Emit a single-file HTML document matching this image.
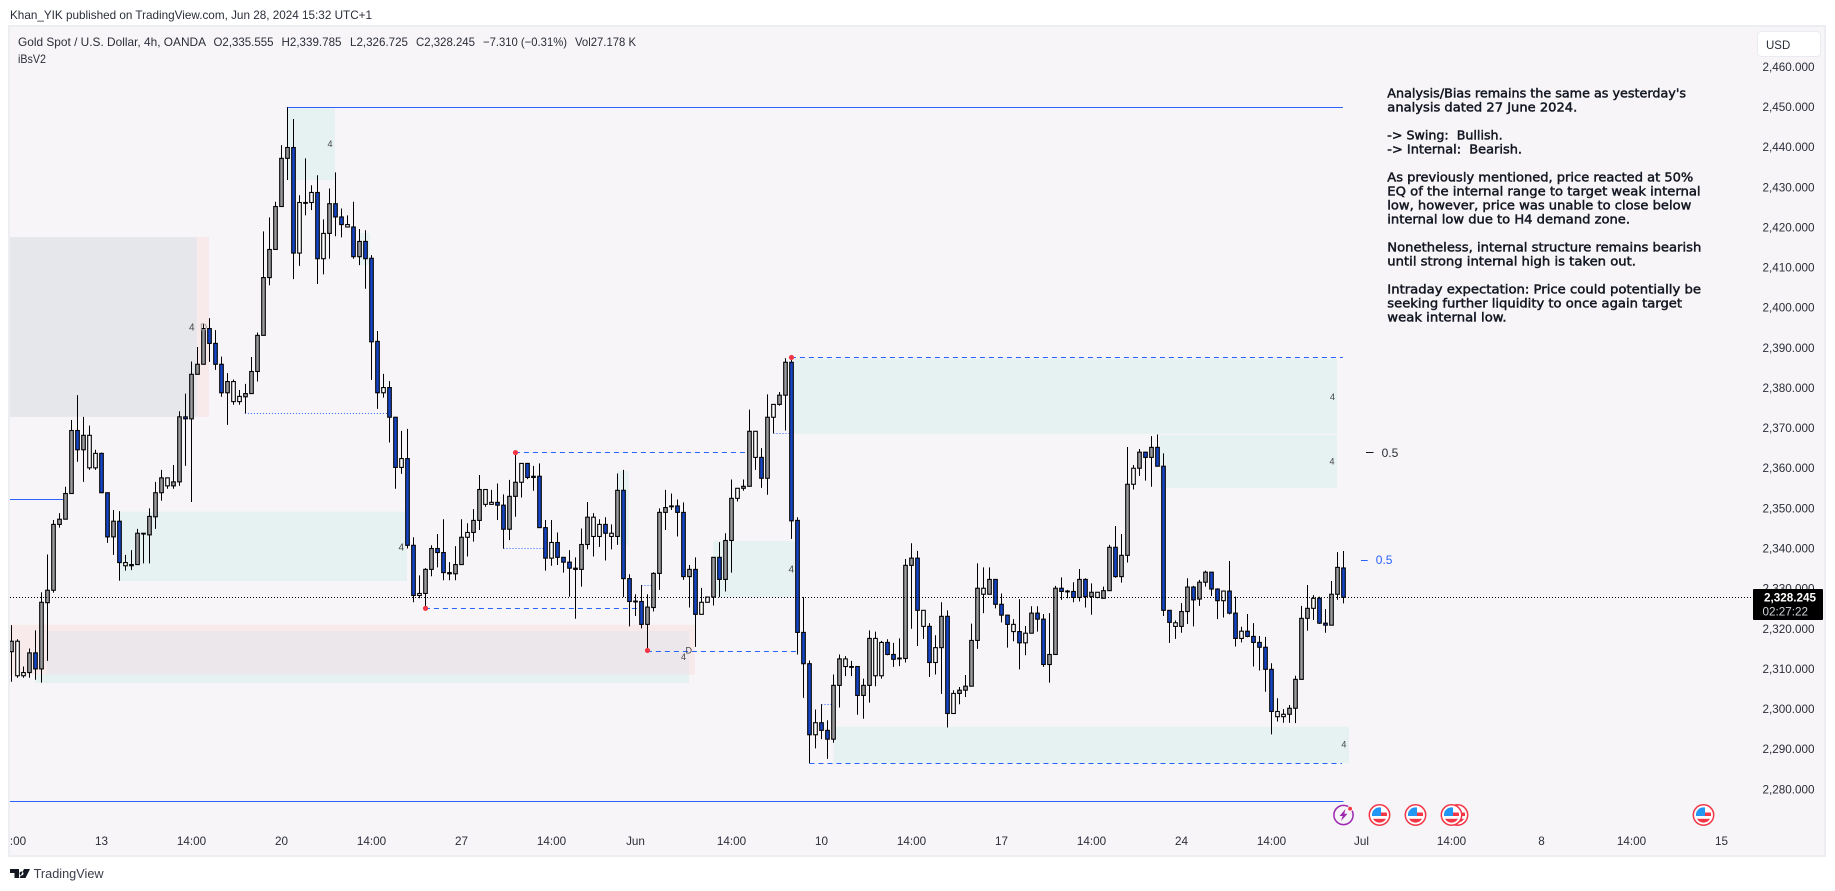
<!DOCTYPE html>
<html lang="en">
<head>
<meta charset="utf-8">
<title>Gold Spot / U.S. Dollar 4h chart</title>
<style>
html,body{margin:0;padding:0;background:#fff;width:1835px;height:891px;overflow:hidden}
svg{display:block}
text{font-family:"Liberation Sans",sans-serif;white-space:pre}
.lg{font-size:12px;fill:#2a2e39}
.note{font-family:"DejaVu Sans","Liberation Sans",sans-serif;font-size:12px;font-weight:400;fill:#131722;stroke:#131722;stroke-width:.45}
.tick{font-size:11.7px;fill:#2a2e39}
</style>
</head>
<body>
<svg id="chart" xmlns="http://www.w3.org/2000/svg" width="1835" height="891" viewBox="0 0 1835 891">
  <defs>
    <clipPath id="plot-clip"><rect x="10" y="27" width="1814" height="829"></rect></clipPath>
    <clipPath id="flag-clip"><circle cx="0" cy="0" r="7.6"></circle></clipPath>
  </defs>
  <text x="10" y="19" class="lg" textLength="362" lengthAdjust="spacingAndGlyphs">Khan_YIK published on TradingView.com, Jun 28, 2024 15:32 UTC+1</text>
  <rect x="9" y="26" width="1816" height="830" fill="#f7f5f7" stroke="#eceef2" stroke-width="2"></rect>

  <g id="zones" clip-path="url(#plot-clip)"></g>
  <g id="levels" clip-path="url(#plot-clip)"></g>
  <g id="candles" clip-path="url(#plot-clip)"></g>
  <g id="pivots" clip-path="url(#plot-clip)"></g>
  <g id="lastline"></g>
  <g id="yticks"></g>
  <g id="xticks" clip-path="url(#plot-clip)"></g>
  <g id="events"></g>

  <g>
    <text x="18" y="46" class="lg" textLength="188" lengthAdjust="spacingAndGlyphs">Gold Spot / U.S. Dollar, 4h, OANDA</text>
    <text x="213.5" y="46" class="lg" textLength="60" lengthAdjust="spacingAndGlyphs">O2,335.555</text>
    <text x="281.5" y="46" class="lg" textLength="60" lengthAdjust="spacingAndGlyphs">H2,339.785</text>
    <text x="350" y="46" class="lg" textLength="58" lengthAdjust="spacingAndGlyphs">L2,326.725</text>
    <text x="416" y="46" class="lg" textLength="59" lengthAdjust="spacingAndGlyphs">C2,328.245</text>
    <text x="483" y="46" class="lg" textLength="84" lengthAdjust="spacingAndGlyphs">−7.310 (−0.31%)</text>
    <text x="575" y="46" class="lg" textLength="61" lengthAdjust="spacingAndGlyphs">Vol27.178 K</text>
    <text x="18" y="63" class="lg" textLength="28" lengthAdjust="spacingAndGlyphs">iBsV2</text>
  </g>

  <g>
    <text class="note" x="1387.3" y="97.5" textLength="298.7" lengthAdjust="spacingAndGlyphs">Analysis/Bias remains the same as yesterday's</text>
    <text class="note" x="1387.3" y="111.5" textLength="190" lengthAdjust="spacingAndGlyphs">analysis dated 27 June 2024.</text>
    <text class="note" x="1387.3" y="139.5" textLength="115.3" lengthAdjust="spacingAndGlyphs">-&gt; Swing:  Bullish.</text>
    <text class="note" x="1387.3" y="153.5" textLength="134.7" lengthAdjust="spacingAndGlyphs">-&gt; Internal:  Bearish.</text>
    <text class="note" x="1387.3" y="181.5" textLength="306" lengthAdjust="spacingAndGlyphs">As previously mentioned, price reacted at 50%</text>
    <text class="note" x="1387.3" y="195.5" textLength="313.3" lengthAdjust="spacingAndGlyphs">EQ of the internal range to target weak internal</text>
    <text class="note" x="1387.3" y="209.5" textLength="304" lengthAdjust="spacingAndGlyphs">low, however, price was unable to close below</text>
    <text class="note" x="1387.3" y="223.5" textLength="242.7" lengthAdjust="spacingAndGlyphs">internal low due to H4 demand zone.</text>
    <text class="note" x="1387.3" y="251.5" textLength="314" lengthAdjust="spacingAndGlyphs">Nonetheless, internal structure remains bearish</text>
    <text class="note" x="1387.3" y="265.5" textLength="248.7" lengthAdjust="spacingAndGlyphs">until strong internal high is taken out.</text>
    <text class="note" x="1387.3" y="293.5" textLength="313.7" lengthAdjust="spacingAndGlyphs">Intraday expectation: Price could potentially be</text>
    <text class="note" x="1387.3" y="307.5" textLength="294.7" lengthAdjust="spacingAndGlyphs">seeking further liquidity to once again target</text>
    <text class="note" x="1387.3" y="321.5" textLength="119.3" lengthAdjust="spacingAndGlyphs">weak internal low.</text>
  </g>

  <g>
    <line x1="1366" x2="1373.5" y1="452.5" y2="452.5" stroke="#131722" stroke-width="1"></line>
    <text x="1381.6" y="457" font-size="12" fill="#2a2e39">0.5</text>
    <line x1="1361" x2="1367.7" y1="560.5" y2="560.5" stroke="#2962ff" stroke-width="1"></line>
    <text x="1375.8" y="564" font-size="12" fill="#2962ff">0.5</text>
  </g>

  <g font-size="9" fill="#444">
    <text x="327.5" y="147">4</text>
    <text x="189" y="330.5" font-size="10">4</text>
    <text x="200" y="330.5" font-size="10" fill="#999">D</text>
    <text x="398.5" y="550.5" font-size="10">4</text>
    <text x="788.5" y="572.5" font-size="10">4</text>
    <text x="681" y="660">4</text>
    <text x="685.5" y="653.5">D</text>
    <text x="1330" y="400">4</text>
    <text x="1329.5" y="464.5">4</text>
    <text x="1341.4" y="747.5">4</text>
  </g>

  <g>
    <rect x="1753" y="589" width="70" height="31" rx="1" fill="#000"></rect>
    <text x="1816" y="601.5" text-anchor="end" font-size="11.7" font-weight="700" fill="#fff">2,328.245</text>
    <text x="1808" y="615.5" text-anchor="end" font-size="11.7" fill="#d1d4dc">02:27:22</text>
  </g>

  <g>
    <rect x="1757.5" y="31.5" width="63" height="25" rx="4" fill="#fff" stroke="#eaebf0"></rect>
    <text x="1766" y="49" font-size="11.5" fill="#2a2e39">USD</text>
  </g>

  <g>
    <path d="M10 869h9v9h-4.5v-5H10zM21.5 871.5a2 2 0 1 0 .01 0zM24 869h6l-4.5 9h-6z" fill="#131722"></path>
    <text x="33.6" y="878" font-size="12.5" fill="#3a3e49" textLength="70" lengthAdjust="spacingAndGlyphs">TradingView</text>
  </g>
</svg>

<script>
// ---- price data (one entry per 4h bar) ----
const highs = [
2321.3,2317.8,2311,2315.5,2320,2329.5,2338.9,2347.5,2349.2,2355.8,
2372.4,2378.6,2373.2,2371,2365,2364.3,2354.3,2350,2349.7,2338.8,
2340,2345.3,2344.2,2350.4,2357,2360,2358,2361.2,2374.6,2379,
2387,2390.6,2396.5,2397.8,2394.8,2388.2,2384.1,2382.5,2379.9,2381.4,
2388.1,2394.2,2419.4,2422.9,2426.8,2440.9,2450.3,2447.4,2428.4,2437.6,
2430.9,2433.4,2422.4,2430.1,2434.1,2425.1,2423.4,2426.8,2420,2419.7,
2413.5,2394.6,2383.9,2382.1,2373.1,2369.7,2370.2,2343.2,2333.7,2335.5,
2341.2,2344,2347.7,2337,2341,2347.7,2346.7,2350.2,2358.7,2355.1,
2355,2356.6,2353.9,2357.5,2364.3,2361.6,2361.6,2361,2361.6,2347.5,
2347.5,2344.4,2338.2,2340,2338.2,2345.4,2352,2349.2,2347.7,2348.2,
2346.4,2359.1,2360,2334,2329,2331.3,2329,2334.5,2350.4,2355,
2354.1,2352.6,2351.9,2336.3,2338.2,2330.6,2328.3,2338.2,2342,2344.2,
2357.6,2355.4,2357.6,2375,2369.6,2365.4,2378.8,2376.3,2379.4,2387.8,
2388.6,2348.2,2328.3,2312.5,2300.3,2301.6,2297.6,2309,2314,2313.6,
2312.4,2311,2308,2320,2319.7,2317.4,2317.8,2316.9,2318,2337.8,
2341.7,2339.8,2325,2321.8,2318.8,2327,2325,2305.1,2305.9,2308.9,
2321.7,2336.7,2335.7,2335.7,2332.7,2329.2,2323.8,2322.8,2327.8,2321.1,
2326,2326,2324.1,2324.3,2331.1,2333.2,2330.1,2332,2335.3,2333,
2331.7,2329.5,2330.9,2341.3,2346,2344,2365.7,2361.2,2365.2,2364.4,
2368.4,2368.8,2364.1,2325,2322.5,2326.8,2333,2331.1,2332.6,2334.9,
2334.5,2330.5,2329.8,2337.3,2328.4,2320.9,2324.1,2321.8,2318.6,2318.4,
2311.8,2303.1,2300.4,2301.4,2308.7,2326.1,2331.3,2328.8,2328.4,2325.3,
2332.3,2339.5,2339.785];
const bodyTops = [
2317.3,2317.3,2309.5,2314.4,2314.4,2327,2330,2346.4,2347.7,2354.1,
2369.8,2369.8,2368.6,2368.6,2364.1,2364.1,2354.3,2347.2,2347.2,2336.9,
2336.4,2344.2,2344.2,2348.4,2354.3,2358,2358,2357,2373.2,2373.2,
2383.8,2386.3,2395.2,2395.2,2391.5,2386.3,2382,2382,2378.3,2379,
2384.5,2393.5,2407.9,2414.9,2425.6,2437.6,2440.3,2440.3,2426.6,2426.6,
2429.1,2429.1,2418.9,2426.3,2426.3,2423,2421.1,2420.5,2416.9,2416.9,
2412.7,2392,2380.5,2380.5,2373.1,2362.8,2362.8,2341.2,2329.2,2335.2,
2340.4,2340.4,2339.4,2334.4,2336.4,2343.2,2344.4,2347.4,2355.1,2355.1,
2351.9,2351.9,2351.2,2353.4,2356.9,2361.6,2361.6,2358.4,2358.4,2345.6,
2341.9,2341.9,2338.2,2337,2335.5,2341.4,2348.2,2348.2,2346.4,2346.4,
2344.2,2354.9,2354.9,2332.9,2327.3,2327.2,2325.8,2334.2,2349.4,2350.6,
2351,2351,2349.4,2335.2,2335.2,2327,2328.3,2338.2,2338.2,2342.4,
2352.9,2355.4,2355.9,2369.6,2369.6,2363.1,2373.1,2376.3,2378.6,2386.8,
2386.8,2347.4,2319.5,2311.7,2297,2297,2295.1,2306.3,2312.9,2312.9,
2311,2311,2306.3,2318,2318,2317,2317,2314,2313.1,2336.2,
2338,2338,2325,2321,2315.7,2323.5,2323.5,2304.3,2305.1,2306.1,
2317.5,2330.5,2330.5,2332.7,2332.7,2326.5,2323.8,2321.5,2319.7,2319.3,
2324.3,2324.3,2322.8,2314,2330.5,2330.5,2329.8,2329.7,2332.7,2332.7,
2329.5,2329.5,2329.9,2340.7,2340.7,2338.7,2356.4,2360.4,2364.4,2364.4,
2365.6,2365.6,2360.9,2325,2321.9,2324.7,2330.8,2330.8,2332,2334.5,
2334.5,2330.3,2329.8,2329.8,2324.3,2319.8,2319.8,2318.5,2317,2315.8,
2310.3,2299.8,2299.1,2300.6,2307.8,2323,2325.5,2328,2328,2321.8,
2329,2335.7,2335.555];
const bodyBottoms = [
2314.7,2308.7,2308.7,2309.5,2310.4,2310.4,2326.9,2330,2346.4,2347.7,
2354.1,2365,2365,2360.5,2360.5,2354.3,2343.3,2343.3,2336.9,2336.1,
2336.1,2336.4,2344,2343.8,2348.3,2354.3,2356,2356,2357,2372.7,
2372.7,2383.8,2386.3,2391.5,2386.3,2379.2,2379.2,2377,2377,2378.2,
2379,2384.5,2393.5,2407.9,2414.9,2425.6,2437.6,2414,2414,2426.4,
2426.6,2412.6,2412.6,2418.9,2423,2421.1,2420.5,2413.1,2413.1,2412.6,
2391.9,2379.2,2379.2,2373.1,2360.6,2360.6,2341.2,2328.7,2328.7,2329.2,
2335.2,2339.4,2334.4,2334.1,2334.1,2336.4,2343.2,2344.4,2347.4,2351.4,
2351.4,2351.2,2345.2,2345.2,2353.4,2356.9,2358.1,2358.1,2345.6,2338,
2338,2338.2,2337,2335.5,2335.2,2335.2,2341.4,2343.4,2343.4,2344.2,
2343.4,2343.4,2332.9,2327.2,2327.1,2321.5,2321.5,2325.7,2334.2,2349.4,
2350.8,2349.4,2333.4,2333.4,2324,2324,2327,2328.3,2332.7,2332.7,
2342.4,2352.9,2355.4,2355.9,2363.1,2357.9,2357.9,2373.1,2376.3,2378.6,
2347.3,2319.5,2311.7,2294,2294,2295.1,2292.9,2292.9,2306.3,2311,
2310.9,2303.8,2303.8,2306.3,2308.7,2308.7,2314,2312.8,2312.9,2313,
2336.2,2325,2321,2312,2312,2315.7,2299.3,2299.3,2304.3,2305.1,
2306.1,2317.5,2329,2329,2326.5,2323.8,2321.5,2319.7,2316.9,2316.9,
2319.3,2322.8,2311.5,2311.5,2314,2329.7,2329.6,2328.2,2328.2,2328.4,
2328.4,2328.2,2328,2329.9,2333.4,2333.4,2338.7,2356.4,2360.4,2363.1,
2363.1,2360.9,2325,2322,2321,2321,2324.7,2327.6,2327.8,2332,
2330.3,2327.4,2327.4,2324.3,2318,2318,2318.5,2317,2315.8,2310.3,
2299.8,2298.5,2298.5,2299.1,2300.6,2307.8,2323,2325.5,2321.8,2321.3,
2321.3,2329,2328.245];
const lows = [
2307.2,2308.2,2308.2,2308.2,2307.7,2307,2312.4,2329.4,2345.6,2347.7,
2354,2362,2357,2360,2360,2354.3,2341.8,2338.8,2332.4,2334.9,
2335,2336.4,2336.7,2336.7,2345.3,2352.3,2355.3,2355.3,2356,2361,
2352,2383.8,2386.3,2386.9,2384.9,2378.2,2371.2,2376.2,2376.2,2374.1,
2379,2382,2393.5,2406,2414.9,2425.6,2432.2,2407.5,2410.8,2423.4,
2424.7,2406.3,2408.7,2412.6,2418.2,2417.9,2420.5,2412.6,2411,2405.1,
2382.4,2375.2,2378,2366.8,2355.3,2359,2340.4,2327,2328,2325.6,
2333.5,2335.7,2332.5,2332.5,2332.5,2336.4,2338.4,2342.1,2345,2350.8,
2351.4,2347.5,2340.4,2342.5,2348.3,2353.1,2357.7,2354.8,2345.6,2334.9,
2336.1,2336.3,2334.4,2328.4,2322.9,2330.9,2340.2,2338.4,2340.8,2337.4,
2340.2,2341.3,2328.3,2321,2323.6,2320.5,2315,2324.7,2330.1,2345,
2350,2343.4,2332.6,2325.7,2315.9,2324,2327,2326.2,2328.3,2329.7,
2334.4,2352.1,2354.8,2355.9,2360,2355.5,2353.8,2369.1,2376,2369.8,
2342.8,2314,2303.2,2286.9,2290.6,2292.9,2288,2292,2300.8,2308.6,
2308.6,2299,2298,2302,2306.1,2308,2313.8,2310.9,2311.1,2312,
2320.4,2316.1,2317.9,2308.4,2309,2304.2,2295.8,2299.3,2301.6,2303.4,
2306.1,2315.4,2324.3,2329,2325.5,2322,2315.7,2317.3,2310.3,2313.8,
2319.3,2319.7,2310.9,2307,2314,2327.6,2328,2327,2327.2,2325.7,
2323.9,2328,2328,2329.9,2333.1,2331.9,2336.9,2355.1,2358.5,2357.3,
2355.8,2360.9,2323.6,2316.9,2317.9,2319.4,2321.6,2321,2326.1,2330.9,
2328.6,2322.8,2323.2,2324,2316,2317,2318.3,2311,2310,2304.7,
2294.1,2297.3,2297,2297,2296.9,2307.8,2319.9,2322.6,2321.6,2319.4,
2321.3,2327.6,2326.725];
// bar category: g = bullish, b = bearish, w = pullback
const barKinds = ("g w w g b g g g g g g b g w w b b g b w b g w g g g w g g b " +
"g g g b b b g w w g g g g g g g g b w w w b w g b b w b g b " +
"b b w b b w b b w g g b b b g g w g g w w b b g g w b b b b " +
"w b b b b g g w w b w g b b w b g g g g w b b g b w w g b g " +
"g w g g w b g w g g b b b b w b b g g w b b g g w w b b w g " +
"g b w b w g b w g g g g w g b b b w b w g b b g g b w b g b " +
"g w g g b g g w g b g b b b w g g b g g b b w b b w b b b b " +
"b w w g g g g w b b g g b").split(" ");

const priceTicks = [2460,2450,2440,2430,2420,2410,2400,2390,2380,2370,2360,2350,2340,2330,2320,2310,2300,2290,2280];
const timeTickBars = [0,15,30,45,60,75,90,104,120,135,150,165,180,195,210,225,240,255,270,285];
const timeTickLabels = ["14:00","13","14:00","20","14:00","27","14:00","Jun","14:00","10","14:00","17","14:00","24","14:00","Jul","14:00","8","14:00","15"];
const lastClose = 2328.245;

// ---- zones: bar range and price range ----
const zoneKinds   = ["demand","demand","demand","demand","supply","mixed","block","supply","demand","demand","demand","demand","demand"];
const zoneFrom    = [45.9,57.9,18,4,-0.25,5.9,-0.25,30.9,130.4,191.4,117,101,137];
const zoneTo      = [53.9,59.75,65.9,112.9,113.9,112.9,30.9,32.9,220.9,220.9,130.75,102.85,222.9];
const zoneHigh    = [2450.3,2419,2349.6,2319.85,2321.4,2319.85,2418,2418,2387.8,2368.7,2342.3,2359.7,2296];
const zoneLow     = [2432.2,2411,2332.3,2306.9,2309,2309,2373.2,2373.2,2369,2355.5,2328.3,2341.3,2286.9];

// ---- horizontal levels ----
const levelKinds  = ["solid","solid","solid","dotted","dashed","dotted","dotted","dashed","dashed","dotted","dashed","dashed","dotted"];
const levelFrom   = [45.9,-0.25,-0.25,38.9,83.9,82,105,68.9,105.9,127,129.9,133,135];
const levelTo     = [221.9,222,8.6,62.7,122.5,88.7,106.7,104.75,130.75,129.6,221.9,221.75,136.7];
const levelPrice  = [2450.3,2277.4,2352.7,2374.1,2364.3,2340.5,2331.1,2325.5,2314.8,2369.1,2388,2286.9,2301.6];

// ---- pivots and events ----
const pivotBars   = [84,69,106,130];
const pivotPrices = [2364.3,2325.5,2315,2388];
const eventKinds  = ["alert","us","us","us","us","us"];
const eventBars   = [222,228,234,241,240,282];

// ---- axis functions ----
const xAxis = i => 11.5 + 6 * i;
const yAxis = p => 597.3 + (lastClose - p) * 4.014;
const crisp = v => Math.floor(v) + 0.5;

const NS = "http://www.w3.org/2000/svg";
function make(tag, attrs, parent) {
  const el = document.createElementNS(NS, tag);
  for (const k in attrs) el.setAttribute(k, attrs[k]);
  parent.appendChild(el);
  return el;
}
const ZONE_FILL = {demand:"#e6f1f2", supply:"#f8e9ea", mixed:"#ebe7eb", block:"#e6e7eb"};
const BODY_FILL = {g:"#9a9b9e", b:"#1546c7", w:"#ffffff"};
const DASH = {solid:"none", dashed:"5 4", dotted:"1 2"};

const zonesG = document.getElementById("zones");
zoneKinds.forEach((kind, i) => {
  const x0 = xAxis(zoneFrom[i]), x1 = xAxis(zoneTo[i]);
  const y0 = yAxis(zoneHigh[i]), y1 = yAxis(zoneLow[i]);
  const r = make("rect", {x:x0, y:y0, width:x1 - x0, height:y1 - y0, fill:ZONE_FILL[kind]}, zonesG);
  
  
});

const levelsG = document.getElementById("levels");
levelKinds.forEach((kind, i) => {
  const y = crisp(yAxis(levelPrice[i]));
  const l = make("line", {x1:xAxis(levelFrom[i]), x2:xAxis(levelTo[i]), y1:y, y2:y, stroke:"#2962ff", "stroke-width":1, "stroke-dasharray":DASH[kind]}, levelsG);
  
  
});

const candlesG = document.getElementById("candles");
highs.forEach((h, i) => {
  const c = xAxis(i);
  const g = make("g", {}, candlesG);
  
  
  const wick = make("line", {x1:c, x2:c, y1:yAxis(h), y2:yAxis(lows[i]), stroke:"#000", "stroke-width":1}, g);
  
  
  const top = yAxis(bodyTops[i]), bot = yAxis(bodyBottoms[i]);
  const body = make("rect", {x:c - 1.8, y:top, width:3.6, height:Math.max(bot - top, 0.8), fill:BODY_FILL[barKinds[i]], stroke:"#000", "stroke-width":1.1}, g);
  
  
});

const pivotsG = document.getElementById("pivots");
pivotBars.forEach((b, i) => {
  const d = make("circle", {cx:xAxis(b), cy:yAxis(pivotPrices[i]), r:2.6, fill:"#f23645"}, pivotsG);
  
  
});

const lastG = document.getElementById("lastline");
const lastY = crisp(yAxis(lastClose));
const lastLine = make("line", {x1:10, x2:1753, y1:lastY, y2:lastY, stroke:"#000", "stroke-width":1, "stroke-dasharray":"1 2"}, lastG);



const yG = document.getElementById("yticks");
priceTicks.forEach(p => {
  const t = make("text", {x:1814.5, y:yAxis(p) + 2.4, "text-anchor":"end", class:"tick"}, yG);
  t.textContent = p.toLocaleString("en-US") + ".000";
  
  
});

const xG = document.getElementById("xticks");
timeTickBars.forEach((b, i) => {
  const t = make("text", {x:xAxis(b), y:845, "text-anchor":"middle", class:"tick"}, xG);
  t.textContent = timeTickLabels[i];
  
  
});

const evG = document.getElementById("events");
eventKinds.forEach((kind, i) => {
  const g = make("g", {transform:"translate(" + xAxis(eventBars[i]) + ",815)"}, evG);
  
  
  if (kind === "us") {
    make("circle", {r:10.2, fill:"#fff", stroke:"#f23645", "stroke-width":1.5}, g);
    const inner = make("g", {"clip-path":"url(#flag-clip)"}, g);
    make("rect", {x:-8, y:-8, width:16, height:16, fill:"#fff"}, inner);
    make("rect", {x:-8, y:-8, width:9.5, height:9, fill:"#2196f3"}, inner);
    make("rect", {x:1.5, y:-2.5, width:7, height:3.5, fill:"#f23645"}, inner);
    make("rect", {x:-8, y:3.8, width:16, height:4.5, fill:"#f23645"}, inner);
  } else {
    make("circle", {r:9.6, fill:"#f7f5f7", stroke:"#9c27b0", "stroke-width":1.5}, g);
    make("path", {d:"M2-6L-4 1h3.2L-2.5 6 4-1.2H.8z", fill:"#9c27b0"}, g);
    make("circle", {cx:6.6, cy:-6.3, r:2.4, fill:"#f23645", stroke:"#f7f5f7", "stroke-width":1}, g);
  }
});
</script>
</body>
</html>
